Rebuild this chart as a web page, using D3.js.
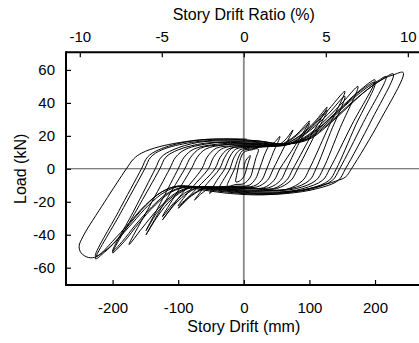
<!DOCTYPE html>
<html><head><meta charset="utf-8">
<script src="https://cdn.jsdelivr.net/npm/d3@7"></script>
<style>
html,body{margin:0;padding:0;background:#fff;}
svg{display:block;font-family:"Liberation Sans",Arial,sans-serif;}
</style></head>
<body>
<svg id="chart" width="419" height="343"></svg>
<script>
// ---- axis tick values ----
const driftTicks = [-200, -100, 0, 100, 200];      // mm (bottom)
const ratioTicks = [-10, -5, 0, 5, 10];            // % (top)
const loadTicks  = [-60, -40, -20, 0, 20, 40, 60]; // kN (left)
const storyHeight = 2500; // mm, 1 % drift = 25 mm

// ---- hysteresis path, cycle by cycle: [drift mm, load kN] ----
const start = [[0, 0]];
const c01 = [[3,5],[10,8],[7,4],[4,0],[1,-4],[-5,-7],[-12,-8],[-11,-4],[-9,0],[-6,5]];
const c02 = [[0,10],[12,11.5],[22,12],[18,6],[14,0],[10,-5],[0,-9],[-12,-9.5],[-25,-10.5],[-20,-5],[-14,0],[-10,5]];
const c03 = [[-2,11],[12,12],[26,13.5],[38,15.5],[31,8],[24,0],[18,-6],[8,-10],[-10,-10.5],[-25,-11],[-38,-12.5],[-30,-6],[-21,0],[-16,6]];
const c04 = [[-6,11.5],[10,12.5],[30,13.5],[45,15.5],[55,19.6],[45,10],[35,0],[27,-7],[15,-10.5],[-10,-11],[-35,-11],[-45,-12.5],[-52,-15],[-41,-7],[-29,0],[-23,6]];
const c05 = [[-12,12],[10,13],[32,13.5],[50,14],[63,17.5],[75,23.6],[60,12],[45,0],[36,-7],[20,-11],[0,-11],[-35,-11],[-55,-12.5],[-66,-15.5],[-75,-19],[-56,-9],[-37,0],[-29,7]];
const c06 = [[-18,12.5],[5,13.5],[35,13.5],[55,14.5],[78,20],[100,29],[78,14],[55,0],[46,-7],[30,-11.5],[0,-11.5],[-40,-11],[-60,-12],[-80,-16.5],[-100,-24],[-72,-12],[-44,0],[-36,7]];
const c07 = [[-24,12],[0,13.5],[40,13.5],[60,15],[80,20],[100,27.5],[82,14],[65,0],[56,-7],[38,-11.5],[0,-11.5],[-40,-11],[-62,-12],[-82,-16.5],[-100,-22.5],[-78,-11],[-54,0],[-46,7]];
const c08 = [[-34,12],[0,14.5],[40,14],[60,14.5],[85,20],[108,28.5],[127,37.4],[101,19],[75,0],[65,-7],[45,-12],[10,-12],[-30,-11.5],[-65,-11],[-85,-14.5],[-105,-21.5],[-124,-31],[-95,-15.5],[-64,0],[-56,7]];
const c09 = [[-42,12.5],[-10,14],[20,14],[55,14],[80,18.5],[105,26.5],[127,35.5],[105,18],[82,0],[72,-7],[50,-12],[20,-12],[-20,-12],[-60,-11],[-85,-13.5],[-105,-20],[-124,-29],[-102,-14.5],[-80,0],[-71,7]];
const c10 = [[-58,12],[-30,14.5],[10,15],[45,14],[65,14.5],[95,22],[125,34],[154,47],[127,23.5],[100,0],[90,-7],[65,-12.5],[30,-13],[-20,-12.5],[-60,-11],[-85,-12],[-110,-18.5],[-130,-28],[-149,-40],[-120,-20],[-90,0],[-81,7]];
const c11 = [[-66,12.5],[-35,14.5],[10,15],[45,14],[70,15],[100,23],[128,33],[154,44],[132,22],[110,0],[100,-7],[72,-12],[30,-13],[-20,-12.5],[-65,-11],[-90,-12.5],[-115,-19],[-133,-27],[-149,-37.5],[-124,-18.5],[-100,0],[-91,7]];
const c12 = [[-76,12],[-40,15],[-10,15.5],[30,15],[60,14.5],[90,18.5],[120,28],[150,40],[174,50],[147,25],[121,0],[110,-7],[80,-12],[40,-13.5],[0,-13.5],[-50,-11.5],[-80,-11],[-105,-15],[-130,-24],[-155,-36],[-175,-46],[-144,-23],[-113,0],[-104,7]];
const c13 = [[-88,12],[-50,15.5],[-20,16.5],[20,16],[55,14.5],[85,17],[115,25],[145,36],[175,47],[200,54],[165,27],[131,0],[120,-7],[90,-12],[50,-14.5],[10,-14.5],[-40,-12.5],[-85,-11],[-110,-14],[-135,-22],[-160,-33],[-182,-44],[-200,-51],[-164,-25.5],[-128,0],[-119,7]];
const c14 = [[-100,11.5],[-60,15.5],[-20,16],[20,15.5],[60,14.5],[92,18],[122,27],[152,38],[180,48],[200,52.5],[170,26],[141,0],[130,-7],[100,-12],[55,-14],[10,-14],[-40,-12.5],[-90,-11],[-115,-14.5],[-140,-23],[-165,-34],[-185,-44],[-200,-50],[-167,-25],[-135,0],[-126,7]];
const c15 = [[-108,11.5],[-70,16],[-25,17],[20,16.5],[60,15],[95,18],[125,27],[155,38.5],[185,48.5],[205,53.5],[217,56],[182,28],[146,0],[135,-7],[105,-12],[60,-14.5],[15,-15],[-40,-13],[-95,-10.5],[-120,-14],[-145,-22],[-170,-33],[-195,-44],[-212,-50.5],[-226,-54.7],[-188,-27],[-151,0],[-142,7]];
const c16 = [[-125,11.5],[-80,16],[-30,17.5],[20,17],[60,15],[97,18],[128,27],[158,38],[188,48],[210,54],[228,57.6],[194,29],[155,0],[144,-7],[112,-12],[65,-15],[20,-15.5],[-40,-13.5],[-100,-10.5],[-125,-14],[-150,-22.5],[-175,-34],[-198,-45],[-214,-50.5],[-226,-53],[-191,-26],[-156,0],[-147,7]];
const c17 = [[-130,11.5],[-85,16.5],[-35,18],[20,17],[65,15],[100,18],[130,27],[160,38],[188,48],[212,54.5],[228,57],[243,58.4],[208,29.5],[164,0],[155,-5],[140,-7.5],[110,-11],[75,-14],[30,-15.8],[-20,-15],[-60,-13],[-100,-10.5],[-125,-14],[-150,-22],[-175,-33],[-200,-44],[-224,-53.2],[-237,-53.8],[-248,-51],[-251,-47],[-245,-41],[-212,-20],[-179,0],[-168,6],[-156,9.5]];
const finish = [[-128,13.5],[-67,17.6],[-20,18.2],[5,18]];
const cycles = [start, c01, c02, c03, c04, c05, c06, c07, c08, c09, c10, c11, c12, c13, c14, c15, c16, c17, finish];

// ---- layout ----
const svg = d3.select("#chart");
const x = d3.scaleLinear().domain([-271, 271]).range([66, 421.6]);
const xr = d3.scaleLinear().domain([-271 / storyHeight * 100, 271 / storyHeight * 100]).range([66, 421.6]);
const y = d3.scaleLinear().domain([-70.5, 70.7]).range([285, 52.3]);

// zero reference lines
svg.append("line").attr("x1", x(0)).attr("x2", x(0)).attr("y1", y.range()[1]).attr("y2", y.range()[0])
  .attr("stroke", "#888").attr("stroke-width", 1.8);
svg.append("line").attr("x1", x.range()[0]).attr("x2", x.range()[1]).attr("y1", y(0)).attr("y2", y(0))
  .attr("stroke", "#555").attr("stroke-width", 1.1);

// hysteresis curve
const pts = [].concat(...cycles);
const lineGen = d3.line().x(d => x(d[0])).y(d => y(d[1])).curve(d3.curveCatmullRom.alpha(0.5));
svg.append("path").attr("d", lineGen(pts)).attr("fill", "none").attr("stroke", "#000")
  .attr("stroke-width", 1).attr("stroke-linejoin", "round");

// axes
const fs = 15;
const fmt = d => String(d);
const gBottom = svg.append("g").attr("transform", `translate(0,${y.range()[0]})`)
  .call(d3.axisBottom(x).tickValues(driftTicks).tickFormat(fmt).tickSizeInner(-5).tickSizeOuter(0).tickPadding(17));
const gTop = svg.append("g").attr("transform", `translate(0,${y.range()[1]})`)
  .call(d3.axisTop(xr).tickValues(ratioTicks).tickFormat(fmt).tickSizeInner(-5).tickSizeOuter(0).tickPadding(10));
const gLeft = svg.append("g").attr("transform", `translate(${x.range()[0]},0)`)
  .call(d3.axisLeft(y).tickValues(loadTicks).tickFormat(fmt).tickSizeInner(-5).tickSizeOuter(0).tickPadding(11));
[gBottom, gTop, gLeft].forEach(g => {
  g.select(".domain").attr("stroke", "#000").attr("stroke-width", 2);
  g.selectAll(".tick line").attr("stroke", "#000").attr("stroke-width", 1.2);
  g.selectAll(".tick text").attr("fill", "#000").style("font-size", fs + "px")
   .style("font-family", '"Liberation Sans",Arial,sans-serif');
});
gLeft.select(".domain").attr("d", `M0,${y.range()[1] - 1}V${y.range()[0] + 1}`);
gBottom.select(".domain").attr("d", `M${x.range()[0]},0H${x.range()[1]}`);
gTop.select(".domain").attr("d", `M${x.range()[0]},0H${x.range()[1]}`);
svg.append("line").attr("x1", x.range()[1]).attr("x2", x.range()[1]).attr("y1", y.range()[1]).attr("y2", y.range()[0])
  .attr("stroke", "#000").attr("stroke-width", 2);

// titles
svg.append("text").attr("x", x(0)).attr("y", 332).attr("text-anchor", "middle")
  .style("font-size", "16px").text("Story Drift (mm)");
svg.append("text").attr("x", x(0)).attr("y", 20).attr("text-anchor", "middle")
  .style("font-size", "16px").text("Story Drift Ratio (%)");
svg.append("text").attr("transform", `translate(26,${y(0)}) rotate(-90)`).attr("text-anchor", "middle")
  .style("font-size", "16px").text("Load (kN)");
</script>
</body></html>
